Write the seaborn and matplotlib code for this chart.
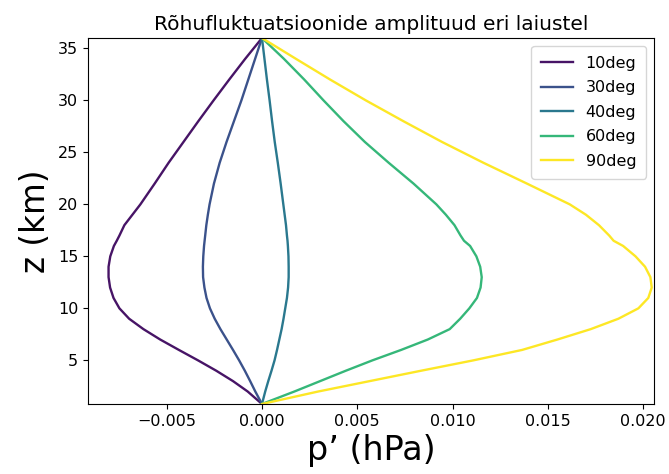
import numpy as np
import pandas as pd
import matplotlib
matplotlib.use("Agg")
import matplotlib.pyplot as plt
import seaborn as sns

# Height levels (km) and pressure-fluctuation amplitude profiles (hPa) per latitude
z_km = [0.8, 2, 3, 4, 5, 6, 7, 8, 9, 10, 11, 12, 13, 14, 15, 16, 16.5, 17, 18,
        19, 20, 22, 24, 26, 28, 30, 32, 34, 36]

p_10deg = [0.0, -0.00075, -0.00152, -0.00240, -0.00336, -0.00436, -0.00534,
           -0.00622, -0.00697, -0.00748, -0.00779, -0.00797, -0.00805, -0.00805,
           -0.00796, -0.00777, -0.00762, -0.00748, -0.00722, -0.00680, -0.00638,
           -0.00563, -0.00490, -0.00412, -0.00334, -0.00254, -0.00172, -0.00088,
           0.0]
p_30deg = [0.0, -0.00035, -0.00062, -0.00090, -0.00120, -0.00152, -0.00185,
           -0.00218, -0.00248, -0.00273, -0.00291, -0.00302, -0.00309, -0.00310,
           -0.00308, -0.00304, -0.00301, -0.00298, -0.00292, -0.00284, -0.00275,
           -0.00252, -0.00222, -0.00186, -0.00147, -0.00108, -0.00072, -0.00036,
           0.0]
p_40deg = [0.0, 0.00017, 0.00033, 0.00050, 0.00066, 0.00079, 0.00091, 0.00103,
           0.00113, 0.00122, 0.00131, 0.00137, 0.00140, 0.00140, 0.00139, 0.00136,
           0.00134, 0.00131, 0.00126, 0.00119, 0.00112, 0.00098, 0.00083, 0.00067,
           0.00053, 0.00040, 0.00026, 0.00013, 0.0]
p_60deg = [0.0, 0.00170, 0.00305, 0.00440, 0.00580, 0.00730, 0.00870, 0.00985,
           0.01040, 0.01088, 0.01128, 0.01147, 0.01153, 0.01145, 0.01125, 0.01092,
           0.01060, 0.01042, 0.01010, 0.00965, 0.00915, 0.00795, 0.00665, 0.00540,
           0.00428, 0.00323, 0.00222, 0.00115, 0.0]
p_90deg = [0.0, 0.00295, 0.00565, 0.00835, 0.01110, 0.01365, 0.01550, 0.01725,
           0.01870, 0.01975, 0.02027, 0.02045, 0.02038, 0.02010, 0.01960, 0.01895,
           0.01845, 0.01822, 0.01768, 0.01700, 0.01615, 0.01390, 0.01162, 0.00945,
           0.00742, 0.00545, 0.00358, 0.00178, 0.0]

latitudes = [10, 30, 40, 60, 90]
labels = ["10deg", "30deg", "40deg", "60deg", "90deg"]
profiles = [p_10deg, p_30deg, p_40deg, p_60deg, p_90deg]
line_colors = ["#471466", "#3b528b", "#2a788e", "#35b779", "#fde725"]

frames = []
for lab, prof in zip(labels, profiles):
    frames.append(pd.DataFrame({"p": prof, "z": z_km, "lat": lab}))
df = pd.concat(frames, ignore_index=True)

palette = dict(zip(labels, line_colors))

fig = plt.figure(figsize=(6.69, 4.74), dpi=100)
ax = fig.add_axes([0.1315, 0.1477, 0.8461, 0.7721])

sns.lineplot(data=df, x="p", y="z", hue="lat", palette=palette,
             orient="y", estimator=None, linewidth=1.7, ax=ax)

ax.set_xlim(-0.00913, 0.02057)
ax.set_ylim(0.8, 36)
ax.set_xticks([-0.005, 0.0, 0.005, 0.010, 0.015, 0.020])
ax.set_yticks([5, 10, 15, 20, 25, 30, 35])
ax.tick_params(labelsize=11.5)

ax.set_title("Rõhufluktuatsioonide amplituud eri laiustel", fontsize=14.5)
ax.set_xlabel("p’ (hPa)", fontsize=24)
ax.set_ylabel("z (km)", fontsize=23.5)

leg = ax.legend(loc="upper right", fontsize=11.5, title=None,
                labelspacing=0.6, borderpad=0.6)

fig.savefig("out.png", dpi=100)
